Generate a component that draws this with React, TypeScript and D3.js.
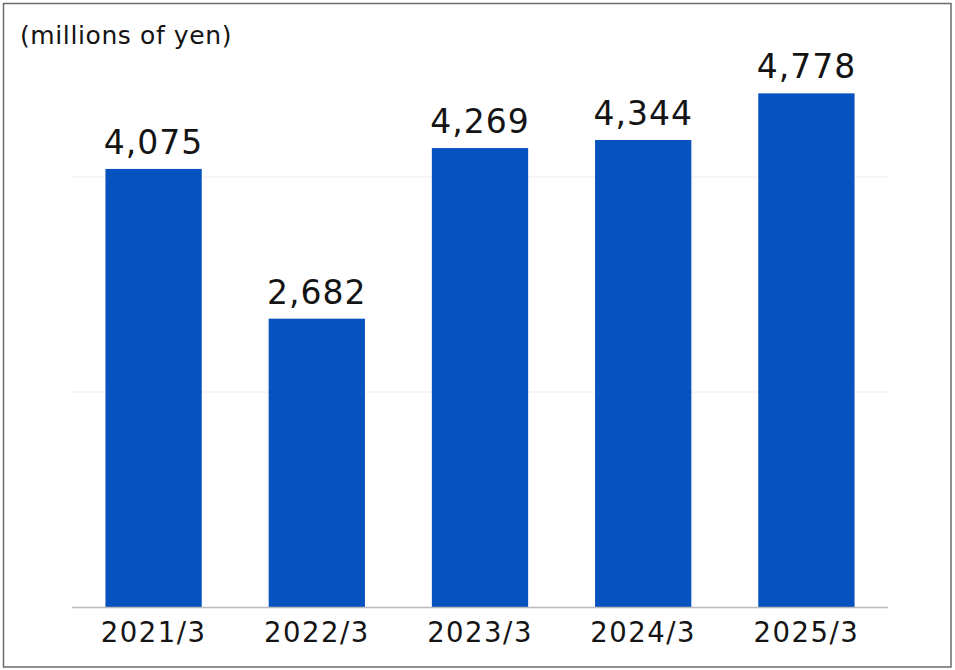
import { useMemo } from 'react';
import * as d3 from 'd3';

const categories = ['2021/3', '2022/3', '2023/3', '2024/3', '2025/3'];
const values = [4075, 2682, 4269, 4344, 4778];
const gridTicks = [2000, 4000];
const unitLabel = '(millions of yen)';

const WIDTH = 955;
const HEIGHT = 670;
const PLOT = { left: 72, right: 888, bottom: 607 };
const FONT = '"DejaVu Sans", "Noto Sans CJK JP", sans-serif';
const BAR_COLOR = '#0652be';
const TEXT_COLOR = '#141414';

export default function App() {
  const x = useMemo(
    () =>
      d3
        .scaleBand<string>()
        .domain(categories)
        .range([PLOT.left, PLOT.right])
        .paddingInner(0.41)
        .paddingOuter(0.205),
    []
  );

  // 215px per 2000 yen
  const y = useMemo(
    () => d3.scaleLinear().domain([0, 5000]).range([PLOT.bottom, PLOT.bottom - 537.5]),
    []
  );

  const fmt = d3.format(',');

  return (
    <svg
      width={WIDTH}
      height={HEIGHT}
      viewBox={`0 0 ${WIDTH} ${HEIGHT}`}
      style={{ position: 'absolute', left: 0, top: 0, background: '#fff' }}
      fontFamily={FONT}
      fontWeight={400}
    >
      <rect x={3.5} y={3.5} width={947.5} height={663.5} fill="#fff" stroke="#6b6b6b" strokeWidth={1.5} />

      <text x={20} y={44} fontSize={25} letterSpacing={0.6} fill={TEXT_COLOR}>
        {unitLabel}
      </text>

      {gridTicks.map((t) => (
        <line
          key={t}
          x1={PLOT.left}
          x2={PLOT.right}
          y1={y(t)}
          y2={y(t)}
          stroke="#ececec"
          strokeWidth={1}
        />
      ))}

      {categories.map((c, i) => (
        <rect
          key={c}
          x={x(c)}
          y={y(values[i])}
          width={x.bandwidth()}
          height={y(0) - y(values[i])}
          fill={BAR_COLOR}
        />
      ))}

      <line
        x1={PLOT.left}
        x2={PLOT.right}
        y1={PLOT.bottom + 0.5}
        y2={PLOT.bottom + 0.5}
        stroke="#bbbbbb"
        strokeWidth={1.5}
      />

      {categories.map((c, i) => (
        <text
          key={`v-${c}`}
          x={(x(c) ?? 0) + x.bandwidth() / 2}
          y={y(values[i]) - 15}
          textAnchor="middle"
          fontSize={33}
          letterSpacing={1}
          fill={TEXT_COLOR}
        >
          {fmt(values[i])}
        </text>
      ))}

      {categories.map((c) => (
        <text
          key={`t-${c}`}
          x={(x(c) ?? 0) + x.bandwidth() / 2}
          y={642}
          textAnchor="middle"
          fontSize={27.5}
          letterSpacing={1.5}
          fill={TEXT_COLOR}
        >
          {c}
        </text>
      ))}
    </svg>
  );
}
